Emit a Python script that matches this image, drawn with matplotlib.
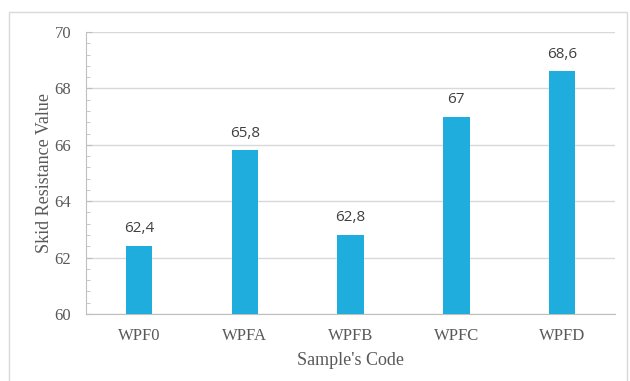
import matplotlib.pyplot as plt
from matplotlib.patches import Rectangle
from matplotlib.ticker import MultipleLocator

# data
samples = ["WPF0", "WPFA", "WPFB", "WPFC", "WPFD"]
skid = [62.4, 65.8, 62.8, 67.0, 68.6]
labels = ["62,4", "65,8", "62,8", "67", "68,6"]

fig = plt.figure(figsize=(6.3, 3.81), dpi=100)
ax = fig.add_axes([0.137, 0.176, 0.839, 0.740])

# light frame around the chart
fig.patches.append(Rectangle((0.014, -0.01), 0.982, 0.978, transform=fig.transFigure,
                             fill=False, edgecolor="#d9d9d9", linewidth=1))

x = range(len(samples))
bars = ax.bar(x, skid, width=0.25, color="#1eaddc", zorder=3, bottom=0)

for b, lab in zip(bars, labels):
    ax.text(b.get_x() + b.get_width() / 2, b.get_height() + 0.35, lab,
            ha="center", va="bottom", fontsize=11, color="#404040", family="Open Sans")

ax.set_ylim(60, 70)
ax.set_xlim(-0.5, 4.5)
ax.yaxis.set_major_locator(MultipleLocator(2))
ax.yaxis.set_minor_locator(MultipleLocator(0.4))
ax.grid(axis="y", color="#d9d9d9", linewidth=1, zorder=0)

ax.set_xticks(list(x))
ax.set_xticklabels(samples)
for spine in ["top", "right"]:
    ax.spines[spine].set_visible(False)
ax.spines["left"].set_color("#bfbfbf")
ax.spines["bottom"].set_color("#bfbfbf")
ax.tick_params(axis="x", length=0, pad=10, labelsize=12, labelcolor="#595959")
ax.tick_params(axis="y", which="major", length=4, direction="in", color="#bfbfbf",
               pad=11, labelsize=12, labelcolor="#595959")
ax.tick_params(axis="y", which="minor", length=3, direction="in", color="#bfbfbf")
for t in ax.get_xticklabels() + ax.get_yticklabels():
    t.set_family("Liberation Serif")

ax.set_xlabel("Sample's Code", family="Liberation Serif", fontsize=13, color="#595959", labelpad=6)
ax.set_ylabel("Skid Resistance Value", family="Liberation Serif", fontsize=13, color="#595959", labelpad=1)

fig.savefig("out.png", dpi=100)
